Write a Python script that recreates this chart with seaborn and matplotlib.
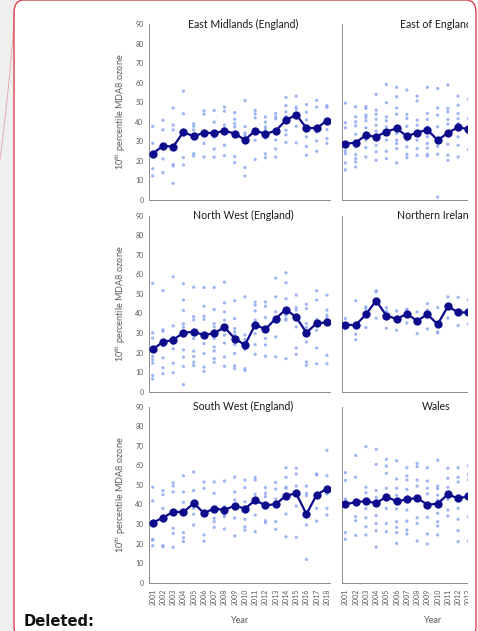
import matplotlib
matplotlib.use("Agg")
import matplotlib.pyplot as plt
import seaborn as sns
import numpy as np
import pandas as pd
from matplotlib.patches import FancyBboxPatch, Rectangle
from matplotlib.lines import Line2D

# ---------------- data ----------------
years = list(range(2001, 2019))
years_cut = list(range(2001, 2014))   # right-hand panels are cut off at 2013 in the picture

regions = ["East Midlands (England)", "East of England",
           "North West (England)", "Northern Ireland",
           "South West (England)", "Wales"]

em_mean = [23.7, 27.7, 27.3, 34.8, 32.5, 34.5, 34.2, 35.4, 34.0, 30.7, 35.5, 33.8, 35.4, 40.8, 43.6, 36.9, 36.7, 40.6]
ee_mean = [28.7, 29.4, 33.1, 32.3, 35.0, 36.6, 32.6, 34.5, 35.9, 30.6, 34.3, 37.2, 36.2]
nw_mean = [21.7, 25.4, 26.5, 30.2, 30.6, 29.0, 29.9, 33.0, 27.2, 23.9, 34.3, 31.9, 37.4, 42.0, 38.1, 30.2, 35.0, 35.4]
ni_mean = [34.3, 34.0, 39.5, 46.6, 38.9, 37.2, 39.8, 36.2, 39.6, 34.5, 43.6, 40.6, 40.5]
sw_mean = [30.7, 33.2, 36.3, 36.1, 40.6, 35.6, 37.9, 37.2, 39.4, 37.9, 42.1, 39.6, 40.1, 44.5, 45.7, 35.0, 45.0, 48.1]
wa_mean = [40.2, 41.1, 41.8, 40.6, 44.0, 41.6, 42.6, 43.3, 39.9, 40.4, 45.2, 43.1, 44.2]

em_sites = [
    [37.6, 29.0, 16.0, 12.3],
    [40.8, 35.9, 21.0, 14.0],
    [47.0, 38.3, 35.9, 18.1, 17.4, 8.5],
    [55.7, 44.1, 35.4, 21.7, 17.9],
    [39.0, 37.7, 35.9, 33.8, 23.7, 22.5],
    [45.6, 43.9, 33.8, 28.9, 22.0],
    [45.8, 39.8, 34.8, 33.6, 32.1, 26.1, 21.9],
    [47.5, 45.4, 38.3, 36.6, 28.0, 22.7],
    [44.7, 41.3, 39.1, 37.4, 32.3, 22.2, 19.1],
    [50.9, 37.6, 34.3, 33.1, 16.6, 12.3],
    [45.8, 44.1, 42.0, 35.9, 30.6, 20.7],
    [42.5, 39.8, 37.4, 36.0, 31.6, 23.6, 21.7],
    [44.2, 42.5, 41.5, 36.0, 30.7, 26.1, 21.9],
    [52.4, 48.3, 45.1, 42.7, 35.7, 33.3, 29.5],
    [53.1, 47.5, 46.5, 37.7, 29.2],
    [48.8, 44.9, 41.0, 35.4, 32.3, 27.3, 22.9],
    [50.9, 47.5, 34.7, 30.2, 24.9],
    [48.2, 47.3, 36.0, 31.4, 29.0],
]
ee_sites = [
    [49.5, 39.5, 36.9, 28.7, 25.1, 23.7, 19.0, 15.4],
    [47.7, 42.5, 40.0, 37.9, 33.6, 27.2, 23.2, 21.2, 19.5, 16.9],
    [47.8, 46.8, 43.4, 42.2, 40.5, 36.9, 34.3, 30.6, 26.8, 22.0],
    [54.0, 45.9, 43.9, 41.3, 38.3, 35.2, 28.0, 24.6, 20.3],
    [59.1, 49.7, 42.5, 40.5, 37.4, 30.6, 24.9, 21.2],
    [57.6, 52.8, 47.0, 43.9, 34.0, 30.6, 28.9, 26.3, 19.0],
    [56.2, 43.7, 41.7, 37.7, 30.6, 27.2, 23.4, 21.7],
    [53.1, 50.7, 40.8, 38.3, 34.8, 30.6, 26.3, 22.9],
    [57.6, 44.2, 41.2, 37.4, 32.3, 28.9, 26.5, 23.4, 22.5],
    [57.0, 47.0, 43.4, 37.4, 29.7, 27.5, 23.4, 1.5],
    [58.8, 46.8, 45.1, 41.2, 38.8, 34.0, 28.5, 22.9, 20.3],
    [53.1, 48.5, 44.2, 41.5, 39.1, 32.3, 28.0, 22.0],
    [51.4, 41.7, 34.0, 25.8],
]
nw_sites = [
    [55.4, 30.1, 27.4, 18.0, 16.3, 14.6, 8.3, 6.5],
    [51.7, 31.6, 30.9, 25.7, 23.5, 17.3, 12.2, 9.2],
    [58.7, 33.7, 27.9, 24.5, 21.9, 14.6, 9.7],
    [55.3, 46.9, 41.5, 34.7, 33.0, 21.4, 17.7, 12.9, 3.6],
    [53.4, 38.4, 36.7, 29.7, 27.2, 20.7, 18.0, 15.1, 13.4],
    [53.3, 43.7, 38.6, 37.0, 28.9, 24.6, 19.5, 12.6, 10.4],
    [53.3, 42.0, 34.8, 33.1, 27.2, 22.9, 20.8, 16.9, 15.0],
    [56.0, 45.4, 40.8, 36.6, 33.1, 28.9, 24.9, 17.8, 13.0],
    [46.5, 37.4, 32.3, 30.6, 28.9, 26.3, 24.1, 19.5, 13.2, 11.8],
    [48.5, 29.0, 26.6, 25.4, 24.3, 22.9, 21.5, 11.8, 10.9],
    [45.8, 44.2, 41.3, 36.6, 33.8, 29.7, 24.1, 19.1],
    [45.9, 43.7, 37.9, 31.4, 27.2, 23.9, 18.1],
    [58.1, 48.5, 40.8, 37.9, 36.6, 28.0, 17.8],
    [60.8, 55.7, 47.5, 40.0, 39.1, 37.2, 36.6, 16.9],
    [49.4, 43.0, 41.7, 39.1, 33.1, 22.4, 19.1],
    [44.7, 42.5, 34.8, 32.8, 29.7, 25.4, 15.2, 13.5],
    [51.6, 46.8, 36.9, 35.7, 35.2, 31.4, 22.4, 14.3],
    [49.4, 41.7, 39.1, 37.9, 36.6, 18.6, 14.3],
]
ni_sites = [
    [37.4, 33.1, 32.3],
    [46.5, 29.4, 26.6],
    [43.4, 42.5, 32.8],
    [51.6, 51.1, 37.6],
    [43.0, 41.2, 32.5],
    [41.3, 31.4],
    [42.2, 41.7, 35.2],
    [40.8, 36.0, 29.7],
    [45.0, 41.7, 32.1],
    [43.0, 30.6, 30.0],
    [48.5, 37.6],
    [48.2, 33.8],
    [47.1, 34.7],
]
sw_sites = [
    [48.8, 41.8, 22.2, 21.8, 18.9],
    [47.1, 45.0, 38.0, 33.8, 18.9, 18.4],
    [51.0, 49.4, 46.5, 27.8, 25.2, 18.1],
    [54.7, 46.4, 41.1, 25.6, 23.0, 21.1],
    [56.6, 47.1, 38.0, 35.0, 29.5],
    [51.5, 48.3, 24.4, 21.3],
    [51.5, 45.7, 32.9, 31.2, 28.3],
    [52.0, 38.9, 34.6, 33.8, 27.5],
    [54.0, 46.4, 42.3, 33.1, 23.9],
    [52.5, 48.6, 41.4, 32.4, 28.6, 26.9],
    [53.9, 52.5, 45.2, 34.6, 26.1],
    [48.6, 45.7, 44.0, 31.7, 30.7],
    [51.3, 47.9, 42.8, 31.2, 27.3],
    [58.8, 53.9, 48.8, 48.3, 35.1, 23.5],
    [58.5, 55.6, 49.4, 39.2, 23.2],
    [49.4, 45.7, 44.5, 29.5, 11.9],
    [55.6, 55.1, 38.0, 31.5],
    [67.7, 54.7, 45.4, 38.0, 34.6],
]
wa_sites = [
    [56.3, 52.3, 42.8, 25.6, 22.2],
    [65.1, 53.9, 42.3, 33.8, 31.7, 24.2],
    [69.6, 48.8, 46.0, 37.9, 33.2, 28.6, 24.4],
    [68.2, 60.5, 47.1, 43.6, 34.4, 30.3, 26.6, 18.2],
    [63.1, 59.7, 55.9, 48.3, 38.0, 30.3, 26.1],
    [62.4, 53.0, 48.3, 44.7, 37.7, 31.2, 28.3, 25.6, 20.1],
    [58.8, 54.6, 52.5, 47.7, 37.2, 31.5, 26.9, 24.9],
    [61.0, 59.3, 52.5, 49.4, 43.3, 33.2, 30.3, 21.3],
    [58.8, 52.0, 48.3, 45.4, 33.4, 24.9, 19.8],
    [62.6, 49.4, 48.1, 44.8, 42.3, 35.5, 31.2, 29.0, 24.4],
    [58.5, 53.4, 48.8, 42.6, 37.2, 34.1],
    [58.8, 53.9, 51.5, 38.0, 32.4, 26.6, 21.0],
    [59.8, 55.6, 52.5, 33.8, 21.3],
]

y_ticks = [0, 10, 20, 30, 40, 50, 60, 70, 80, 90]
y_label = "10$^{\\mathrm{th}}$ percentile MDA8 ozone"
x_label = "Year"
note_text = "Deleted:"

# ---------------- tidy tables ----------------
means = {regions[0]: (years, em_mean), regions[1]: (years_cut, ee_mean),
         regions[2]: (years, nw_mean), regions[3]: (years_cut, ni_mean),
         regions[4]: (years, sw_mean), regions[5]: (years_cut, wa_mean)}
sites = {regions[0]: (years, em_sites), regions[1]: (years_cut, ee_sites),
         regions[2]: (years, nw_sites), regions[3]: (years_cut, ni_sites),
         regions[4]: (years, sw_sites), regions[5]: (years_cut, wa_sites)}

mean_rows, site_rows = [], []
for r in regions:
    yrs, vals = means[r]
    for y, v in zip(yrs, vals):
        mean_rows.append((r, y, v))
    yrs, lists = sites[r]
    for y, vl in zip(yrs, lists):
        for v in vl:
            site_rows.append((r, y, v))
mean_df = pd.DataFrame(mean_rows, columns=["region", "year", "ozone"])
site_df = pd.DataFrame(site_rows, columns=["region", "year", "ozone"])

# ---------------- styling ----------------
sns.set_theme(style="white")
plt.rcParams["font.family"] = ["Lato", "DejaVu Sans"]
plt.rcParams["mathtext.fontset"] = "custom"
plt.rcParams["mathtext.rm"] = "Lato"
plt.rcParams["mathtext.it"] = "Lato"

W, H = 478, 631
fig = plt.figure(figsize=(W / 100, H / 100), dpi=100)
fig.patch.set_facecolor("#efefef")

def rect(x0, ytop, w, h):
    return [x0 / W, 1 - (ytop + h) / H, w / W, h / H]

# white comment balloon
fig.patches.append(FancyBboxPatch((14 / W, -8 / H), (476 - 14) / W, (H + 8) / H,
                                  boxstyle="round,pad=0,rounding_size=0.02",
                                  transform=fig.transFigure, facecolor="white",
                                  edgecolor="none", zorder=-5))

navy = "#0b0b8c"
dot_blue = "#86a3f2"
grey_txt = "#595959"
spine_c = "#8c8c8c"

col_x = [149, 341.7]
row_top = [24, 215.7, 406.7]
AW, AH = 181, 176

for i, r in enumerate(regions):
    row, col = divmod(i, 2)
    ax = fig.add_axes(rect(col_x[col], row_top[row], AW, AH))
    ax.set_facecolor("none")
    sdf = site_df[site_df.region == r]
    mdf = mean_df[mean_df.region == r]
    sns.scatterplot(data=sdf, x="year", y="ozone", ax=ax, color=dot_blue,
                    s=5.5, edgecolor="none", alpha=0.8, zorder=2, legend=False)
    sns.lineplot(data=mdf, x="year", y="ozone", ax=ax, color=navy, lw=1.6,
                 marker="o", markersize=5.2, markeredgecolor=navy,
                 errorbar=None, zorder=3, legend=False)
    ax.set_xlim(2000.64, 2018.3)
    ax.set_ylim(0, 90)
    ax.set_yticks(y_ticks)
    tick_years = years if col == 0 else years_cut
    ax.set_xticks(tick_years)
    for s in ["top", "right"]:
        ax.spines[s].set_visible(False)
    for s in ["left", "bottom"]:
        ax.spines[s].set_color(spine_c)
        ax.spines[s].set_linewidth(0.7)
    ax.tick_params(axis="both", direction="out", length=2.5, width=0.6,
                   color=spine_c, labelcolor=grey_txt, labelsize=5, pad=1.5)
    ax.tick_params(axis="x", labelrotation=90)
    ax.set_ylabel("")
    ax.set_xlabel("")
    if col == 0:
        ax.set_ylabel(y_label, fontsize=6.6, color=grey_txt)
        ax.yaxis.set_label_coords(-0.118, 0.5)
    else:
        ax.set_yticklabels([])
    if row < 2:
        ax.set_xticklabels([])
    else:
        ax.set_xticklabels([str(y) for y in tick_years])
        ax.set_xlabel(x_label, fontsize=6.6, color=grey_txt, labelpad=8)
    ax.text(0.52, 1.0, r, transform=ax.transAxes, ha="center", va="center",
            fontsize=7.6, color="#1a1a1a")

# crop of the embedded picture on the right and balloon outline
fig.patches.append(Rectangle((468 / W, 0), (W - 468) / W, 1, transform=fig.transFigure,
                             facecolor="white", edgecolor="none", zorder=5))
fig.patches.append(Rectangle((476.5 / W, 0), (W - 476.5) / W, 1, transform=fig.transFigure,
                             facecolor="#f4f4f4", edgecolor="none", zorder=5))
fig.patches.append(FancyBboxPatch((14 / W, -8 / H), (476 - 14) / W, (H + 8) / H,
                                  boxstyle="round,pad=0,rounding_size=0.02",
                                  transform=fig.transFigure, facecolor="none",
                                  edgecolor="#d9434b", lw=1.0, zorder=6))
t = np.linspace(0, 1, 30)
cx = 14 - 14 * t ** 1.3
cy = 15 + 145 * t
fig.lines.append(Line2D(cx / W, 1 - cy / H, transform=fig.transFigure,
                        color="#e06a70", lw=0.7, ls=(0, (1, 1)), zorder=6))

fig.text(24 / W, 1 - 626.5 / H, note_text, fontsize=10.6, fontweight="bold",
         family=["DejaVu Sans"], color="#111111",
         ha="left", va="baseline", zorder=7)

fig.savefig("out.png", dpi=100, facecolor=fig.get_facecolor())
